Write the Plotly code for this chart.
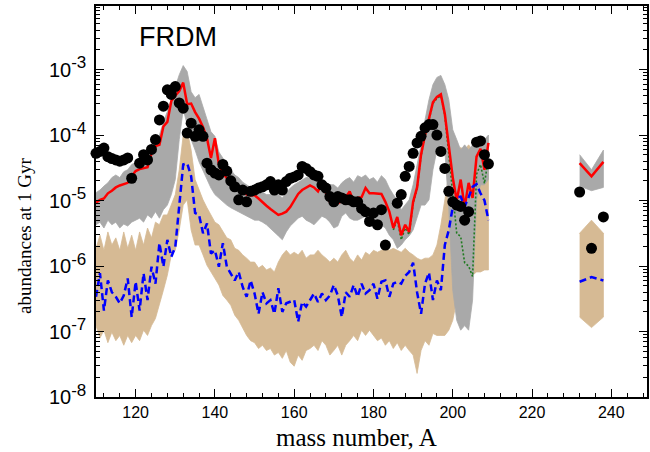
import numpy as np
import plotly.graph_objects as go

# mass numbers
A_main = list(range(110, 210))
A_act = [232, 235, 238]

# ---- data (log10 abundances) ----
red_main = [-5.03, -4.99, -4.97, -4.89, -4.85, -4.80, -4.77, -4.75, -4.73, -4.63,
            -4.55, -4.52, -4.51, -4.49, -4.28, -4.17, -4.15, -3.87, -3.80, -3.48,
            -3.40, -3.33, -3.20, -3.53, -3.52, -3.65, -3.75, -3.88, -4.05, -4.35,
            -4.05, -4.45, -4.58, -4.66, -4.72, -4.76, -4.82, -4.87, -4.91, -4.92,
            -4.92, -4.97, -5.03, -5.08, -5.13, -5.17, -5.22, -5.20, -5.17, -5.10,
            -5.00, -4.90, -4.84, -4.81, -4.77, -4.80, -4.86, -4.74, -4.89, -5.02,
            -4.96, -5.04, -5.01, -4.95, -4.86, -5.02, -4.96, -4.95, -4.81, -4.89,
            -4.89, -4.89, -4.90, -5.02, -5.17, -5.42, -5.25, -5.53, -5.37, -5.48,
            -5.02, -4.80, -4.30, -4.00, -3.75, -3.50, -3.42, -3.38, -3.68, -4.15,
            -4.65, -5.00, -4.68, -5.10, -4.73, -4.96, -4.33, -4.21, -4.53, -4.12]
red_act = [-4.43, -4.63, -4.41]

blue_main = [-6.47, -6.11, -6.68, -6.22, -6.40, -6.47, -6.57, -6.45, -6.19, -6.78,
             -6.24, -6.68, -6.11, -6.52, -6.01, -6.27, -5.65, -6.01, -5.60, -5.86,
             -5.71, -5.09, -4.45, -4.43, -4.63, -5.19, -5.22, -5.50, -5.35, -5.81,
             -5.76, -6.01, -5.65, -6.01, -6.11, -6.22, -6.09, -6.32, -6.47, -6.22,
             -6.42, -6.73, -6.40, -6.57, -6.52, -6.73, -6.34, -6.70, -6.57, -6.55,
             -6.52, -6.85, -6.55, -6.62, -6.52, -6.42, -6.55, -6.42, -6.52, -6.45,
             -6.29, -6.45, -6.78, -6.40, -6.47, -6.29, -6.47, -6.27, -6.42, -6.37,
             -6.27, -6.50, -6.24, -6.22, -6.47, -6.27, -6.24, -6.27, -6.15, -6.09,
             -5.95, -6.40, -6.73, -6.27, -6.10, -6.52, -6.22, -6.37, -5.68, -5.45,
             -5.10, -4.95, -4.94, -5.09, -4.95, -4.79, -4.75, -4.89, -5.00, -5.30]
blue_act = [-6.24, -6.17, -6.22]

A_green = list(range(185, 210))
green = [-5.45, -5.30, -5.60, -5.42, -5.52, -5.05, -4.82, -4.32, -4.02, -3.77,
         -3.52, -3.44, -3.40, -3.70, -4.30, -5.00, -5.50, -5.55, -5.95, -6.00,
         -6.16, -4.60, -4.45, -4.74, -4.35]

gray_top = [-4.88, -4.84, -4.78, -4.73, -4.65, -4.61, -4.65, -4.56, -4.53, -4.45,
            -4.42, -4.38, -4.30, -4.26, -4.19, -4.12, -4.00, -3.80, -3.64, -3.46,
            -3.28, -3.08, -2.94, -3.03, -3.34, -3.43, -3.38, -3.58, -3.77, -3.95,
            -4.02, -4.26, -4.35, -4.45, -4.53, -4.61, -4.65, -4.72, -4.76, -4.81,
            -4.84, -4.84, -4.87, -4.91, -4.91, -4.88, -4.91, -4.96, -4.88, -4.81,
            -4.76, -4.72, -4.68, -4.65, -4.65, -4.68, -4.62, -4.68, -4.73, -4.76,
            -4.76, -4.81, -4.73, -4.68, -4.65, -4.72, -4.62, -4.65, -4.61, -4.68,
            -4.65, -4.72, -4.62, -4.68, -4.81, -4.91, -4.99, -5.14, -5.07, -4.99,
            -4.76, -4.45, -4.15, -3.77, -3.46, -3.23, -3.12, -3.09, -3.23, -3.46,
            -3.92, -4.07, -4.23, -4.15, -4.23, -4.15, -4.07, -4.04, -4.07, -4.00]
gray_bot = [-5.37, -5.33, -5.42, -5.30, -5.37, -5.33, -5.42, -5.36, -5.39, -5.33,
            -5.30, -5.27, -5.33, -5.22, -5.27, -5.17, -5.27, -5.14, -5.07, -4.91,
            -4.68, -4.07, -3.61, -3.84, -4.07, -4.23, -4.41, -4.53, -4.68, -4.81,
            -4.91, -4.96, -5.02, -5.07, -5.11, -5.14, -5.17, -5.21, -5.24, -5.27,
            -5.30, -5.30, -5.33, -5.37, -5.42, -5.48, -5.54, -5.60, -5.48, -5.39,
            -5.33, -5.27, -5.24, -5.30, -5.33, -5.37, -5.30, -5.24, -5.27, -5.33,
            -5.42, -5.39, -5.24, -5.19, -5.27, -5.30, -5.30, -5.27, -5.24, -5.27,
            -5.30, -5.33, -5.37, -5.42, -5.53, -5.60, -5.73, -5.68, -5.60, -5.54,
            -5.45, -5.27, -5.07, -5.07, -4.99, -4.53, -4.23, -4.15, -4.23, -5.14,
            -6.37, -6.83, -6.98, -6.91, -6.98, -6.52, -4.99, -4.76, -4.76, -4.68]
gray_top_act = [-4.30, -4.53, -4.23]
gray_bot_act = [-4.78, -4.85, -4.80]

tan_top = [-5.73, -5.53, -5.76, -5.48, -5.68, -5.57, -5.76, -5.48, -5.73, -5.53,
           -5.76, -5.48, -5.68, -5.42, -5.57, -5.33, -5.37, -5.22, -5.22, -5.07,
           -4.91, -4.53, -4.00, -3.92, -4.23, -4.68, -4.84, -4.99, -5.11, -5.22,
           -5.33, -5.37, -5.48, -5.57, -5.60, -5.73, -5.76, -5.83, -5.88, -5.94,
           -5.94, -6.03, -5.99, -6.06, -6.03, -6.09, -5.94, -5.83, -5.76, -5.83,
           -5.79, -5.83, -5.76, -5.88, -5.83, -5.83, -5.76, -5.83, -5.88, -5.94,
           -5.88, -5.94, -5.83, -5.76, -5.88, -5.94, -5.83, -5.91, -5.79, -5.83,
           -5.76, -5.79, -5.76, -5.73, -5.76, -5.73, -5.76, -5.79, -5.73, -5.79,
           -5.83, -5.88, -5.91, -5.88, -5.88, -5.83, -5.68, -5.37, -4.99, -4.61,
           -4.38, -4.23, -4.19, -4.23, -4.15, -4.23, -4.19, -4.30, -4.38, -4.45]
tan_bot = [-6.91, -7.10, -6.98, -7.17, -7.01, -7.14, -7.06, -7.21, -7.06, -7.17,
           -7.06, -7.14, -6.98, -7.06, -6.91, -6.80, -6.60, -6.37, -6.14, -5.83,
           -5.76, -5.45, -5.07, -4.99, -5.45, -5.68, -5.68, -5.83, -5.99, -6.09,
           -6.19, -6.29, -6.45, -6.52, -6.60, -6.75, -6.83, -6.95, -7.06, -7.14,
           -7.17, -7.26, -7.21, -7.29, -7.26, -7.36, -7.32, -7.41, -7.29, -7.47,
           -7.53, -7.36, -7.44, -7.29, -7.26, -7.21, -7.29, -7.14, -7.21, -7.36,
           -7.29, -7.21, -7.36, -7.21, -7.14, -7.06, -7.14, -6.98, -7.06, -6.98,
           -7.06, -7.14, -7.10, -7.21, -7.14, -7.26, -7.17, -7.29, -7.21, -7.29,
           -7.36, -7.64, -7.29, -7.14, -7.21, -7.03, -7.06, -7.06, -7.06, -6.98,
           -6.83, -6.52, -6.37, -6.29, -6.22, -6.14, -6.09, -6.09, -6.06, -6.06]
tan_top_act = [-5.50, -5.30, -5.50]
tan_bot_act = [-6.78, -6.94, -6.78]

A_solar = [110, 111, 112, 113, 114, 115, 116, 117, 118, 119, 121, 122, 123, 124,
           125, 126, 127, 128, 129, 130, 131, 132, 133, 134, 135, 136, 137, 138,
           139, 140, 141, 142, 143, 144, 145, 146, 147, 148, 149, 150, 151, 152,
           153, 154, 155, 156, 157, 158, 159, 160, 161, 162, 163, 164, 165, 166,
           167, 168, 169, 170, 171, 172, 173, 174, 175, 176, 177, 178, 179, 180,
           181, 182, 183, 186, 187, 188, 189, 190, 191, 192, 193, 194, 195, 196,
           197, 198, 199, 200, 201, 202, 203, 204, 206, 207, 208, 209,
           232, 235, 238]
solar = [-4.28, -4.25, -4.20, -4.33, -4.36, -4.38, -4.40, -4.38, -4.35, -4.66,
         -4.43, -4.30, -4.38, -4.22, -4.07, -3.77, -3.56, -3.31, -3.38, -3.26,
         -3.51, -3.59, -3.97, -3.82, -4.02, -3.92, -4.02, -4.43, -4.53, -4.58,
         -4.61, -4.45, -4.55, -4.70, -4.79, -4.99, -4.84, -5.02, -4.86, -4.84,
         -4.81, -4.79, -4.76, -4.71, -4.84, -4.76, -4.84, -4.71, -4.66, -4.64,
         -4.61, -4.48, -4.51, -4.56, -4.61, -4.63, -4.76, -4.81, -4.94, -5.02,
         -4.94, -4.96, -4.99, -4.99, -5.02, -5.02, -5.12, -5.17, -5.32, -5.19,
         -5.37, -5.14, -5.68, -5.04, -4.91, -4.63, -4.48, -4.28, -4.12, -4.02,
         -3.89, -3.84, -3.84, -4.00, -4.25, -4.51, -4.86, -5.02, -5.07, -5.09,
         -5.30, -5.17, -4.11, -4.09, -4.30, -4.44,
         -4.87, -5.73, -5.25]

x_ticks = [120, 140, 160, 180, 200, 220, 240]
y_exps = [-8, -7, -6, -5, -4, -3]


def p(v):
    return list(10.0 ** np.array(v))


def band(xs, top, bot, color):
    return go.Scatter(x=list(xs) + list(xs)[::-1], y=p(top) + p(bot)[::-1],
                      fill='toself', fillcolor=color, mode='lines',
                      line=dict(color=color, width=0.8), hoverinfo='skip',
                      showlegend=False)


fig = go.Figure()
TAN = '#d6ba94'
GRAY = '#a9a9a9'
fig.add_trace(band(A_main, tan_top, tan_bot, TAN))
fig.add_trace(band(A_act, tan_top_act, tan_bot_act, TAN))
fig.add_trace(band(A_main, gray_top, gray_bot, GRAY))
fig.add_trace(band(A_act, gray_top_act, gray_bot_act, GRAY))

fig.add_trace(go.Scatter(x=A_green, y=p(green), mode='lines',
                         line=dict(color='#1f7a1f', width=1.6, dash='2px,2px'),
                         showlegend=False))
for xs, ys in [(A_main, red_main), (A_act, red_act)]:
    fig.add_trace(go.Scatter(x=xs, y=p(ys), mode='lines',
                             line=dict(color='#ff0000', width=2.5),
                             showlegend=False))
for xs, ys in [(A_main, blue_main), (A_act, blue_act)]:
    fig.add_trace(go.Scatter(x=xs, y=p(ys), mode='lines',
                             line=dict(color='#0000ff', width=2.5, dash='7px,4px'),
                             showlegend=False))
fig.add_trace(go.Scatter(x=A_solar, y=p(solar), mode='markers',
                         marker=dict(color='black', size=11), cliponaxis=False,
                         showlegend=False))

minor_y = [d * 10.0 ** e for e in range(-8, -2) for d in range(2, 10)]

fig.update_layout(
    width=650, height=452,
    margin=dict(l=96, r=1, t=6, b=55),
    paper_bgcolor='white', plot_bgcolor='white',
    showlegend=False,
    xaxis=dict(range=[110, 249], showline=True, linecolor='black', linewidth=1.5,
               mirror='allticks', ticks='inside', ticklen=8, tickwidth=1.3,
               tickcolor='black', tickmode='array', tickvals=x_ticks,
               ticktext=[str(v) for v in x_ticks],
               tickfont=dict(family='Liberation Sans, Arial', size=16, color='black'),
               minor=dict(ticks='inside', dtick=4, tick0=0, ticklen=4,
                          tickwidth=1.1, tickcolor='black', showgrid=False),
               showgrid=False, zeroline=False),
    yaxis=dict(type='log', range=[-8, -2.03], showline=True, linecolor='black',
               linewidth=1.5, mirror='allticks', ticks='inside', ticklen=8,
               tickwidth=1.3, tickcolor='black', tickmode='array',
               tickvals=[10.0 ** e for e in y_exps],
               ticktext=['10<sup><span style="font-size:17px">%d</span></sup>' % e
                         for e in y_exps],
               ticklabelstandoff=4,
               tickfont=dict(family='Liberation Sans, Arial', size=20, color='black'),
               minor=dict(ticks='inside', tickmode='array', tickvals=minor_y,
                          ticklen=4, tickwidth=1.1, tickcolor='black', showgrid=False),
               showgrid=False, zeroline=False),
    annotations=[
        dict(text='FRDM', x=120.3, y=-2.51, xref='x', yref='y', xanchor='left',
             yanchor='middle', showarrow=False,
             font=dict(family='Liberation Sans, Arial', size=27, color='black')),
        dict(text='mass number, A', x=0.472, y=0, xref='paper', yref='paper',
             xanchor='center', yanchor='middle', yshift=-40, showarrow=False,
             font=dict(family='Liberation Serif, Times New Roman', size=25, color='black')),
        dict(text='abundances at 1 Gyr', x=0, y=0.412, xref='paper', yref='paper',
             xanchor='center', yanchor='middle', xshift=-71, textangle=-90,
             showarrow=False,
             font=dict(family='Liberation Serif, Times New Roman', size=19, color='black')),
    ],
)

fig.write_html('out.html', config={'displayModeBar': False},
               post_script="document.body.style.margin='0';document.body.style.padding='0';")
